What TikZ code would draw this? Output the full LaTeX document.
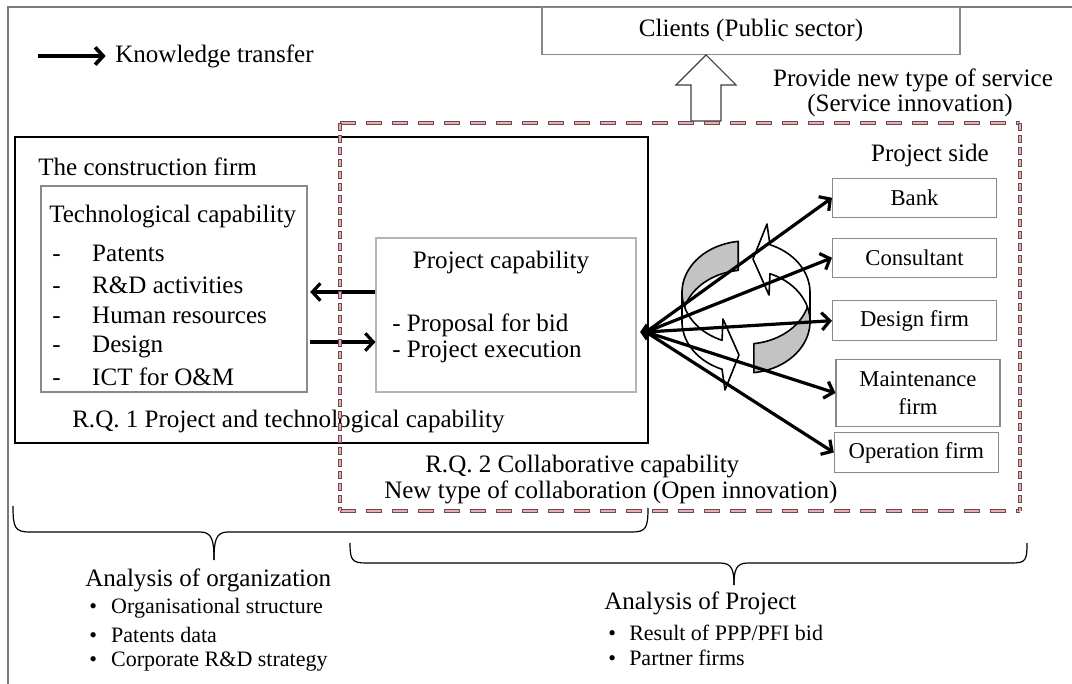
\documentclass[tikz,border=0pt]{standalone}
\usepackage{fontspec}
\setmainfont{Liberation Serif}
\usetikzlibrary{arrows.meta,shapes.geometric,calc}
\definecolor{dashpink}{HTML}{E8AEB3}
\definecolor{dashdark}{HTML}{6E4A4C}
\definecolor{ringgrey}{HTML}{C3C3C3}
\definecolor{boxgrey}{HTML}{8A8A8A}
\definecolor{lightbox}{HTML}{B4B4B4}
\definecolor{framegrey}{HTML}{7A7A7A}
\begin{document}
\begin{tikzpicture}[x=0.75pt,y=-0.75pt,
  lbl/.style={inner sep=0pt, anchor=west, font=\fontsize{18.8}{22}\selectfont},
  clbl/.style={inner sep=0pt, font=\fontsize{18.8}{22}\selectfont},
  blt/.style={inner sep=0pt, anchor=west, font=\fontsize{16.5}{19}\selectfont},
  rbox/.style={draw=boxgrey, line width=0.8pt, minimum width=123pt, inner sep=0pt, align=center, font=\fontsize{17}{19}\selectfont},
  karrow/.style={line width=2.4pt, -{Straight Barb[length=6pt,width=13pt]}},
  brace/.style={line width=0.9pt, black},
  hdO/.style={draw=dashdark, line width=3pt, dash pattern=on 12pt off 7.5pt},
  hdI/.style={draw=dashpink, line width=1.6pt, dash pattern=on 10.8pt off 8.7pt, dash phase=18.9pt},
  vdO/.style={draw=dashdark, line width=3pt, dash pattern=on 6pt off 3pt},
  vdI/.style={draw=dashpink, line width=1.6pt, dash pattern=on 4.8pt off 4.2pt, dash phase=8.4pt},
  ringline/.style={draw=black, line width=1.2pt, line join=round},
  hub/.style={diamond, fill=black, minimum width=9pt, minimum height=13pt, inner sep=0pt}
]
\useasboundingbox (0,0) rectangle (1072,684);
\fill[white] (0,0) rectangle (1072,684);

% outer frame
\draw[framegrey, line width=1pt] (8,684) -- (8,7) -- (1072,7);

% legend
\node[lbl] (kt) at (115,56) {Knowledge transfer};
\coordinate (lgs) at (38,56);
\draw[karrow, line width=2.8pt] (lgs) -- ([xshift=-7pt]kt.west);

% clients
\node[draw=boxgrey, line width=0.8pt, minimum width=313.5pt, minimum height=35.25pt, inner sep=0pt, font=\fontsize{18.8}{22}\selectfont] (clients) at (751,30.7) {Clients (Public sector)};

% hollow up arrow
\draw[line width=0.8pt, draw=black!75, fill=white] (706,55) -- (736,85) -- (721,85) -- (721,121) -- (691,121) -- (691,85) -- (676,85) -- cycle;

\node[clbl] (provide) at (913,80) {Provide new type of service};
\node[clbl] (svc) at (910,105) {(Service innovation)};

% construction firm box
\node[draw=black, line width=1.8pt, minimum width=474.75pt, minimum height=229.5pt, inner sep=0pt] (firm) at (331.5,290) {};
\node[lbl] (firmlbl) at (38,167) {The construction firm};

% technological capability box
\node[draw=boxgrey, line width=0.8pt, minimum width=199.5pt, minimum height=154.5pt, inner sep=0pt] (tech) at (174,289) {};
\node[lbl] (techt) at (49,217) {Technological capability};
\node[lbl] (t1) at (52,253) {\makebox[30pt][l]{-}Patents};
\node[lbl] (t2) at (52,285) {\makebox[30pt][l]{-}R\&D activities};
\node[lbl] (t3) at (52,315) {\makebox[30pt][l]{-}Human resources};
\node[lbl] (t4) at (52,347) {\makebox[30pt][l]{-}Design};
\node[lbl] (t5) at (52,377) {\makebox[30pt][l]{-}ICT for O\&M};

% project capability box
\node[draw=lightbox, line width=0.8pt, minimum width=195pt, minimum height=115.5pt, inner sep=0pt] (pc) at (506,315) {};
\node[clbl] (pct) at (501,263) {Project capability};
\node[lbl] (pc1) at (392,325) {- Proposal for bid};
\node[lbl] (pc2) at (392,352) {- Project execution};

\node[lbl] (rq1) at (72,422) {R.Q. 1 Project and technological capability};

% knowledge arrows between boxes
\coordinate (ya) at (0,292);
\coordinate (yb) at (0,342);
\draw[karrow] (pc.west |- ya) -- ([xshift=2pt]tech.east |- ya);
\draw[karrow] ([xshift=2pt]tech.east |- yb) -- (pc.west |- yb);

% dashed project box
\draw[hdO] (340,123) -- (1020,123);
\draw[hdI] (340,123) -- (1020,123);
\draw[hdO] (340,511) -- (1020,511);
\draw[hdI] (340,511) -- (1020,511);
\draw[vdO] (340,123) -- (340,511);
\draw[vdI] (340,123) -- (340,511);
\draw[vdO] (1020,123) -- (1020,511);
\draw[vdI] (1020,123) -- (1020,511);

\node[clbl] (pside) at (930,155) {Project side};

% right boxes
\node[rbox, minimum height=29.25pt] (bank) at (914.5,197.8) {Bank};
\node[rbox, minimum height=29.25pt] (cons) at (914.5,257.8) {Consultant};
\node[rbox, minimum height=30pt] (des) at (914.5,320.7) {Design firm};
\node[rbox, minimum height=50.25pt, font=\fontsize{17}{21.5}\selectfont] (main) at (918,393) {Maintenance\\firm};
\node[rbox, minimum height=30pt] (oper) at (916.3,452.5) {Operation firm};

% circular arrows (twisted band, point symmetric)
\newcommand\ringarrow{%
  \filldraw[ringline, fill=ringgrey] plot[domain=97:180,samples=40] ({746+64*cos(\x)},{292.5-51.5*sin(\x)}) -- plot[domain=180:97,samples=40] ({746+64*cos(\x)},{321.5-51.5*sin(\x)}) -- cycle;
  \filldraw[ringline, fill=white] plot[domain=180:248,samples=40] ({746+64*cos(\x)},{321.5-51.5*sin(\x)}) -- (725,390) -- (739,355) -- (723,319) -- plot[domain=248:180,samples=40] ({746+64*cos(\x)},{292.5-51.5*sin(\x)}) -- cycle;
}
\begin{scope}
\ringarrow
\end{scope}
\begin{scope}[rotate around={180:(746,307)}]
\ringarrow
\end{scope}

% hub and arrows
\node[hub] (hub) at (646,332) {};
\draw[karrow] (hub.center) -- (bank.west);
\draw[karrow] (hub.center) -- (cons.west);
\draw[karrow] (hub.center) -- (des.west);
\draw[karrow] (hub.center) -- (main.west);
\draw[karrow] (hub.center) -- (oper.west);

\node[lbl] (rq2a) at (425,467) {R.Q. 2 Collaborative capability};
\node[lbl] (rq2b) at (384,492) {New type of collaboration (Open innovation)};

% braces
\draw[brace] (13,506) .. controls (13,528) and (15,532) .. (30,532) -- (200,532) .. controls (212,532) and (214,540) .. (214,560);
\draw[brace] (214,560) .. controls (214,540) and (216,532) .. (228,532) -- (632,532) .. controls (646,532) and (648,528) .. (648,508);
\draw[brace] (350,543) .. controls (350,560) and (352,563) .. (366,563) -- (720,563) .. controls (732,563) and (734,570) .. (734,585);
\draw[brace] (734,585) .. controls (734,570) and (736,563) .. (748,563) -- (1012,563) .. controls (1026,563) and (1027,560) .. (1027,543);

% analysis texts
\node[lbl] (ana1) at (85,580) {Analysis of organization};
\node[blt] (a11) at (89,608) {\makebox[16.5pt][l]{•}Organisational structure};
\node[blt] (a12) at (89,635) {\makebox[16.5pt][l]{•}Patents data};
\node[blt] (a13) at (89,662) {\makebox[16.5pt][l]{•}Corporate R\&D strategy};

\node[lbl] (ana2) at (604,603) {Analysis of Project};
\node[blt] (a21) at (608,633) {\makebox[15.75pt][l]{•}Result of PPP/PFI bid};
\node[blt] (a22) at (608,658) {\makebox[15.75pt][l]{•}Partner firms};
\end{tikzpicture}
\end{document}
